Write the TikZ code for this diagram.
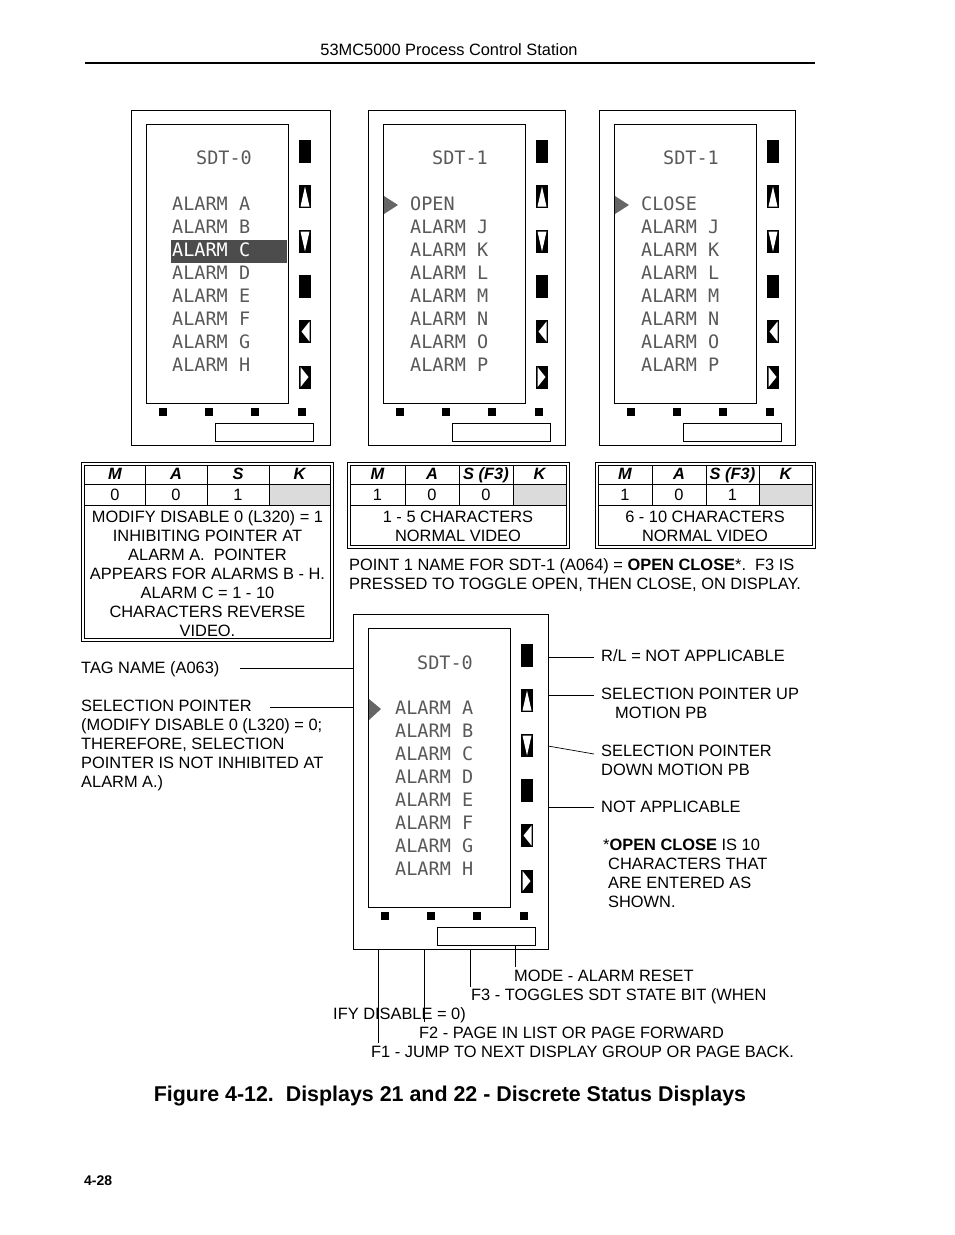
\documentclass[tikz,border=0pt]{standalone}
\usepackage{fontspec}
\setmainfont{Liberation Sans}
\newfontfamily\dotfont{DejaVu Sans Mono}
\usetikzlibrary{positioning}

\begin{document}
\begin{tikzpicture}[x=1pt, y=-1pt,
  txt/.style={anchor=base west, inner sep=0pt, align=left, font=\fontsize{16.4}{19}\selectfont},
  ctxt/.style={anchor=base, inner sep=0pt, align=center, font=\fontsize{16.4}{19}\selectfont},
  hd/.style={anchor=base, inner sep=0pt, font=\fontsize{16.4}{19}\selectfont\bfseries\itshape},
  scr/.style={anchor=west, inner sep=0pt, text height=13pt, text depth=0pt, text=black!65, font=\dotfont\fontsize{18.5}{18}\selectfont},
  case/.style={draw, line width=0.8pt, minimum width=#1, minimum height=335, anchor=north west, inner sep=0pt},
  keybox/.style={draw, line width=0.8pt, minimum width=98, minimum height=18, anchor=north west, inner sep=0pt},
  frame/.style={line width=0.8pt},
  leader/.style={line width=0.7pt},
  ptr/.style={fill=black!60},
  shade/.style={fill=black!14}
]
\useasboundingbox (0,0) rectangle (954,1235);

\node[ctxt] (head) at (449,55.5) {53MC5000 Process Control Station};
\draw[line width=2pt] (85,63) -- (815,63);

\foreach \i/\X/\Y/\W in {1/131/110/199, 2/368/110/197, 3/599/110/196, 4/353/614/195} {
  \node[case=\W] (disp\i) at (\X,\Y) {};
  \begin{scope}[shift={(\X,\Y)}]
    \draw[frame] (15,14) rectangle (157,293);
    \foreach \by in {29.5,75,120,165,210,255.5}
      \fill (168,\by) rectangle ++(12,23);
    \fill[white] (169.5,96.5) -- (174,76.5) -- (178.5,96.5) -- cycle;
    \fill[white] (169.5,121.5) -- (174,141.5) -- (178.5,121.5) -- cycle;
    \fill[white] (170.5,221.5) -- (178.5,211.5) -- (178.5,231.5) -- cycle;
    \fill[white] (169.5,257) -- (177.5,267) -- (169.5,277) -- cycle;
    \foreach \sx in {32,78,124,171}
      \fill (\sx-4,297.5) rectangle ++(8,8);
    \node[keybox] (key\i) at (84,313) {};
  \end{scope}
}

\node[scr, anchor=center] (d1title) at (224,158) {SDT-0};
\fill[black!70] (171,240) rectangle (287,263);
\foreach \t [count=\k] in {ALARM A, ALARM B, ALARM C, ALARM D, ALARM E, ALARM F, ALARM G, ALARM H}
  \node[scr] (d1l\k) at (172,{204+23*(\k-1)}) {\t};
\node[scr, text=white] at (172,250) {ALARM C};

\node[scr, anchor=center] (d2title) at (460,158) {SDT-1};
\fill[ptr] (384,196) -- (398,205) -- (384,214) -- cycle;
\foreach \t [count=\k] in {OPEN, ALARM J, ALARM K, ALARM L, ALARM M, ALARM N, ALARM O, ALARM P}
  \node[scr] (d2l\k) at (410,{204+23*(\k-1)}) {\t};

\node[scr, anchor=center] (d3title) at (691,158) {SDT-1};
\fill[ptr] (615,196) -- (629,205) -- (615,214) -- cycle;
\foreach \t [count=\k] in {CLOSE, ALARM J, ALARM K, ALARM L, ALARM M, ALARM N, ALARM O, ALARM P}
  \node[scr] (d3l\k) at (641,{204+23*(\k-1)}) {\t};

\node[scr, anchor=center] (d4title) at (445,663) {SDT-0};
\fill[ptr] (369,699) -- (381,709) -- (369,720) -- cycle;
\foreach \t [count=\k] in {ALARM A, ALARM B, ALARM C, ALARM D, ALARM E, ALARM F, ALARM G, ALARM H}
  \node[scr] (d4l\k) at (395,{708+23*(\k-1)}) {\t};

\fill[shade] (269,484) rectangle (330,505);
\draw[frame] (81,462) rectangle (333,641);
\draw[frame] (84,465) rectangle (330,638);
\draw[frame] (84,484) -- (330,484) (84,505) -- (330,505);
\draw[frame] (145,465) -- (145,505) (207,465) -- (207,505) (269,465) -- (269,505);
\node[hd] (t1m) at (115,479.5) {M};
\node[hd] (t1a) at (176,479.5) {A};
\node[hd] (t1s) at (238,479.5) {S};
\node[hd] (t1k) at (299.5,479.5) {K};
\node[ctxt] (t1r1) at (115,500) {0};
\node[ctxt] (t1r2) at (176,500) {0};
\node[ctxt] (t1r3) at (238,500) {1};
\node[ctxt] (t1body) at (207.5,636.5) {MODIFY DISABLE 0 (L320) = 1\\INHIBITING POINTER AT\\ALARM A.\ \ POINTER\\APPEARS FOR ALARMS B - H.\\ALARM C = 1 - 10\\CHARACTERS REVERSE\\VIDEO.};

\fill[shade] (513,484) rectangle (566,505);
\draw[frame] (347,462) rectangle (569,548);
\draw[frame] (350,465) rectangle (566,545);
\draw[frame] (350,484) -- (566,484) (350,505) -- (566,505);
\draw[frame] (405,465) -- (405,505) (459,465) -- (459,505) (513,465) -- (513,505);
\node[hd] (t2m) at (377.5,479.5) {M};
\node[hd] (t2a) at (432,479.5) {A};
\node[hd] (t2s) at (486,479.5) {S (F3)};
\node[hd] (t2k) at (539.5,479.5) {K};
\node[ctxt] (t2r1) at (377.5,500) {1};
\node[ctxt] (t2r2) at (432,500) {0};
\node[ctxt] (t2r3) at (486,500) {0};
\node[ctxt] (t2body) at (458,541.5) {1 - 5 CHARACTERS\\NORMAL VIDEO};

\fill[shade] (759,484) rectangle (812,505);
\draw[frame] (595,462) rectangle (815,548);
\draw[frame] (598,465) rectangle (812,545);
\draw[frame] (598,484) -- (812,484) (598,505) -- (812,505);
\draw[frame] (652,465) -- (652,505) (706,465) -- (706,505) (759,465) -- (759,505);
\node[hd] (t3m) at (625,479.5) {M};
\node[hd] (t3a) at (679,479.5) {A};
\node[hd] (t3s) at (732.5,479.5) {S (F3)};
\node[hd] (t3k) at (785.5,479.5) {K};
\node[ctxt] (t3r1) at (625,500) {1};
\node[ctxt] (t3r2) at (679,500) {0};
\node[ctxt] (t3r3) at (732.5,500) {1};
\node[ctxt] (t3body) at (705,541.5) {6 - 10 CHARACTERS\\NORMAL VIDEO};

\node[txt] (point) at (349,589.5) {POINT 1 NAME FOR SDT-1 (A064) = \textbf{OPEN CLOSE}*.\ \ F3 IS\\PRESSED TO TOGGLE OPEN, THEN CLOSE, ON DISPLAY.};

\node[txt] (tag) at (81,673.5) {TAG NAME (A063)};
\node[txt] (selptr) at (81,787.5) {SELECTION POINTER\\(MODIFY DISABLE 0 (L320) = 0;\\THEREFORE, SELECTION\\POINTER IS NOT INHIBITED AT\\ALARM A.)};
\coordinate (tagend) at (240,668);
\coordinate (selend) at (270,707);
\draw[leader] (tagend) -- (tagend -| disp4.west);
\draw[leader] (selend) -- (selend -| disp4.west);

\node[txt] (rl) at (601,661.5) {R/L = NOT APPLICABLE};
\node[txt] (up) at (601,718.5) {SELECTION POINTER UP\\\hspace*{14pt}MOTION PB};
\node[txt] (down) at (601,775.5) {SELECTION POINTER\\DOWN MOTION PB};
\node[txt] (na) at (601,812.5) {NOT APPLICABLE};
\node[txt] (note) at (603,907.5) {*\textbf{OPEN CLOSE} IS 10\\\hspace*{5pt}CHARACTERS THAT\\\hspace*{5pt}ARE ENTERED AS\\\hspace*{5pt}SHOWN.};
\coordinate (rlend) at (594,657);
\coordinate (upend) at (594,695);
\coordinate (downend) at (594,754);
\coordinate (downstart) at (548,746);
\coordinate (naend) at (594,807);
\draw[leader] (rlend -| disp4.east) -- (rlend);
\draw[leader] (upend -| disp4.east) -- (upend);
\draw[leader] (downstart) -- (downend);
\draw[leader] (naend -| disp4.east) -- (naend);

\node[txt] (mode) at (514,981.5) {MODE - ALARM RESET};
\node[txt] (f3) at (471,1000.5) {F3 - TOGGLES SDT STATE BIT (WHEN};
\node[txt] (ify) at (333,1019.5) {IFY DISABLE = 0)};
\node[txt] (f2) at (419,1038.5) {F2 - PAGE IN LIST OR PAGE FORWARD};
\node[txt] (f1) at (371,1057.5) {F1 - JUMP TO NEXT DISPLAY GROUP OR PAGE BACK.};
\coordinate (f1end) at (378,1043);
\coordinate (f2end) at (424,1022);
\coordinate (f3end) at (470,987);
\coordinate (modeend) at (515,967);
\draw[leader] (f1end |- disp4.south) -- (f1end);
\draw[leader] (f2end |- disp4.south) -- (f2end);
\draw[leader] (f3end |- disp4.south) -- (f3end);
\draw[leader] (modeend |- key4.south) -- (modeend);

\node[anchor=base, inner sep=0pt, font=\fontsize{21.4}{24}\selectfont\bfseries] (caption) at (450,1101.5) {Figure 4-12.\ \ Displays 21 and 22 - Discrete Status Displays};
\node[anchor=base west, inner sep=0pt, font=\fontsize{14}{16}\selectfont\bfseries] (page) at (84,1185) {4-28};
\end{tikzpicture}
\end{document}
